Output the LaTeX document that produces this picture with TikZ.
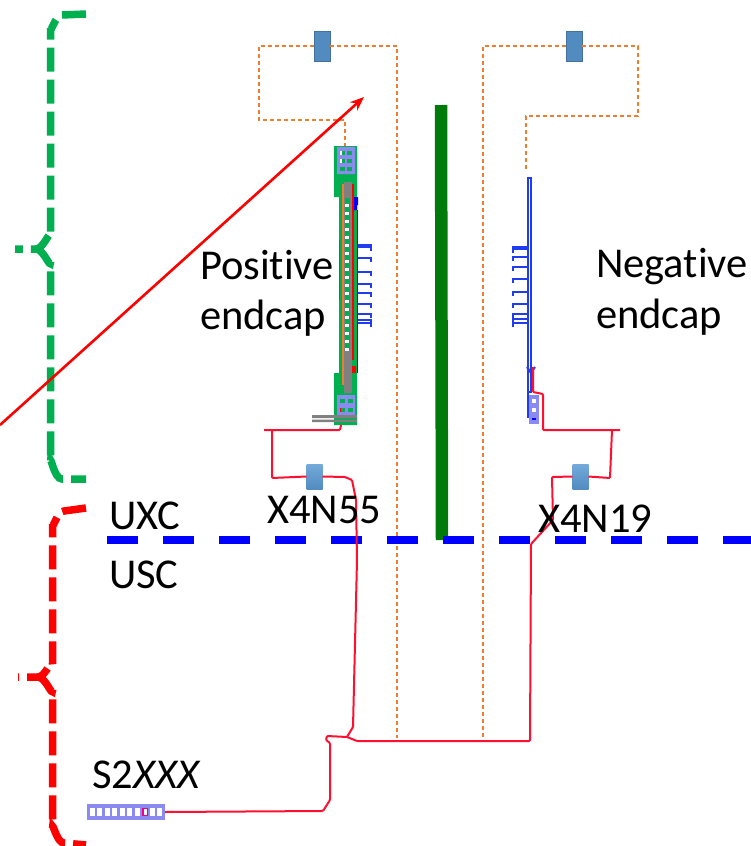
\documentclass[tikz,border=0pt]{standalone}
\usepackage{fontspec}
\setmainfont{Carlito}[Ligatures=NoCommon]
\usetikzlibrary{arrows.meta}
\definecolor{patchblue}{HTML}{5B9BD5}
\definecolor{patchedge}{HTML}{41719C}
\definecolor{fibreorange}{HTML}{ED7D31}
\definecolor{bracegreen}{HTML}{00B050}
\definecolor{barddgreen}{HTML}{007A0A}
\definecolor{crateblue}{HTML}{8A8AF0}
\definecolor{wirered}{HTML}{FF1030}
\definecolor{combblue}{HTML}{1F3CF0}
\tikzset{
  every node/.style={inner sep=0pt,outer sep=0pt},
  label/.style={font=\fontsize{42.5}{50}\selectfont,anchor=base west,align=left},
  patch/.style={draw=patchedge,fill=patchblue!90!black,line width=1pt,minimum width=16pt,minimum height=30pt},
  patchlow/.style={top color=patchblue!85!white,bottom color=patchblue!90!black,minimum width=16pt,minimum height=25pt},
  fibre/.style={draw=fibreorange,line width=1.1pt,dash pattern=on 4pt off 3pt},
  wire/.style={draw=wirered,line width=2pt,rounded corners=1pt},
  brace/.style={line width=7.5pt,dash pattern=on 24pt off 8pt},
  comb/.style={draw=combblue,line width=2pt}
}
\begin{document}
\begin{tikzpicture}[x=1pt,y=-1pt]
  \useasboundingbox (0,0) rectangle (751,846);

  % Parches superiores e inferiores
  \node[patch] (patchP) at (322,46) {};
  \node[patch] (patchN) at (574,46) {};
  \node[patchlow] (patch55) at (314.5,476.5) {};
  \node[patchlow] (patch19) at (580.5,476.5) {};

  % Extremos libres
  \coordinate (fibreP) at (345,146);
  \coordinate (fibreN) at (526,170);
  \coordinate (fibreLow) at (397,738);
  \coordinate (fibreHigh) at (483,738);
  \coordinate (arrowA) at (0,425);
  \coordinate (arrowB) at (364,97);
  \coordinate (lineA) at (107,540);
  \coordinate (lineB) at (751,540);
  \coordinate (barA) at (441,105);
  \coordinate (barB) at (442,540);
  \coordinate (tapP) at (264,430);
  \coordinate (outP) at (341,425);
  \coordinate (tapN) at (620,430);
  \coordinate (outN) at (533,367);
  \coordinate (split) at (347,737);

  % Fibras naranjas
  \draw[fibre] (patchP.west) -- (259,46) -- (259,120) -- (345,120) -- (fibreP);
  \draw[fibre] (patchP.east) -- (397,46) -- (fibreLow);
  \draw[fibre] (patchN.west) -- (483,46) -- (fibreHigh);
  \draw[fibre] (patchN.east) -- (638,46) -- (638,116) -- (526,116) -- (fibreN);

  % Barra central y linea UXC/USC
  \draw[barddgreen,line width=12.5pt] (barA) -- (barB);
  \draw[blue,line width=7.5pt,dash pattern=on 31pt off 25pt] (lineA) -- (lineB);

  % Llaves
  \draw[bracegreen,brace] (86,14) -- (62,15) to[out=180,in=-90] (50.5,28) -- (50.5,236)
    to[out=90,in=0] (36,249) -- (15,249);
  \draw[bracegreen,brace] (36,249) to[out=0,in=-90] (50.5,262) -- (50.5,462)
    to[out=90,in=180] (62,479) -- (86,479);
  \draw[red,brace] (86,508) -- (64,511) to[out=180,in=-90] (52.5,524) -- (52.5,664)
    to[out=90,in=0] (38,677) -- (18,677);
  \draw[red,brace] (38,677) to[out=0,in=-90] (52.5,690) -- (52.5,828)
    to[out=90,in=180] (64,843) -- (86,845);

  % Modulo positivo
  \fill[bracegreen] (334,146) rectangle (357,197) (339,197) rectangle (357,373)
    (334,373) rectangle (357,425);
  \fill[crateblue] (337,147) rectangle (355,174) (337,395) rectangle (355,415);
  \foreach \row in {153,161,169}
    \foreach \col in {342,349}
      \fill[bracegreen] (\col-2.5,\row-2) rectangle (\col+2.5,\row+2);
  \foreach \row in {153,161}
    \fill[white] (340,\row-2) rectangle (342,\row+2);
  \foreach \row in {401,410}
    \foreach \col in {342,350}
      \fill[bracegreen] (\col-2.5,\row-2) rectangle (\col+2.5,\row+2);
  \fill[red] (339.5,408) rectangle (341,412);
  \fill[teal] (339,240) rectangle (340,300);
  \fill[fibreorange] (342,184) rectangle (344.5,385);
  \fill[gray] (344,182) rectangle (352,393);
  \fill[bracegreen] (345,198) rectangle (350,350);
  \foreach \row in {204,212,...,348}
    \fill[white] (345,\row) rectangle (349,\row+3);
  \fill[red] (352,184) rectangle (354,360);
  \fill[blue] (354,197) rectangle (358,205) (354,205) rectangle (357,210);
  \fill[blue] (356.5,210) rectangle (358,373);
  \fill[red] (352,366) rectangle (356,373);
  \fill[gray] (312,415) rectangle (357,418) (312,419.5) rectangle (357,422);

  % Peines azules
  \foreach \row in {245,247,258,272,284,293,304,314,320,323}
    \draw[comb] (358,\row) -- (371,\row) -- (371,\row+4);
  \foreach \row in {247,249,257,267,279,292,304,314,319,323}
    \draw[comb] (527,\row) -- (513,\row) -- (513,\row+4);
  \draw[comb] (528,178) rectangle (530.5,392);
  \draw[comb] (528,392) -- (528,418);
  \draw[comb] (527,367) -- (531,373) -- (535,367);
  \fill[crateblue] (529,395) rectangle (539,424);
  \foreach \row in {401,410}
    \fill[white] (532,\row-2) rectangle (536,\row+2);
  \fill[blue] (532,418) rectangle (536,420);

  % Cables rojos
  \draw[wire] (tapP) -- (340,430) -- (outP);
  \draw[wire] (272,430) -- (272,478) -- (patch55.west);
  \draw[wire] (patch55.east) -- (345,477) -- (352,480) -- (356,500) -- (357,560) -- (353,727) -- (split);
  \draw[wire] (outN) -- (533,392) -- (543,394) -- (543,430) -- (tapN);
  \draw[wire] (612,430) -- (610,478) -- (patch19.east);
  \draw[wire] (patch19.west) -- (552,477) -- (553,520) -- (531,544) -- (530,741) -- (357,741) -- (split);

  % Crate S2
  \node[fill=crateblue,minimum width=78pt,minimum height=16pt] (crate) at (126,812) {};
  \foreach \i in {0,...,9}
    \fill[white] (89.5+\i*7.55,808) rectangle (94.5+\i*7.55,816);
  \draw[magenta,line width=1.2pt] (143,808.5) rectangle (147.5,815.5);
  \draw[wire] (crate.east) -- (323,811) -- (330,800) -- (330,743) -- (326,740) -- (327,736) -- (split);

  % Flecha roja
  \draw[red,line width=2.6pt,-{Stealth[length=14pt,width=11pt]}] (arrowA) -- (arrowB);

  % Textos
  \node[label] (uxc) at (109,529) {UXC};
  \node[label] (usc) at (109,588) {USC};
  \node[label] (x55) at (267,523) {X4N55};
  \node[label] (x19) at (538,532) {X4N19};
  \node[label] (pos) at (200,279) {Positive};
  \node[label] (posb) at (200,329) {endcap};
  \node[label] (neg) at (596,277) {Negative};
  \node[label] (negb) at (596,328) {endcap};
  \node[label] (s2) at (92,788) {S2\textit{XXX}};
\end{tikzpicture}
\end{document}
